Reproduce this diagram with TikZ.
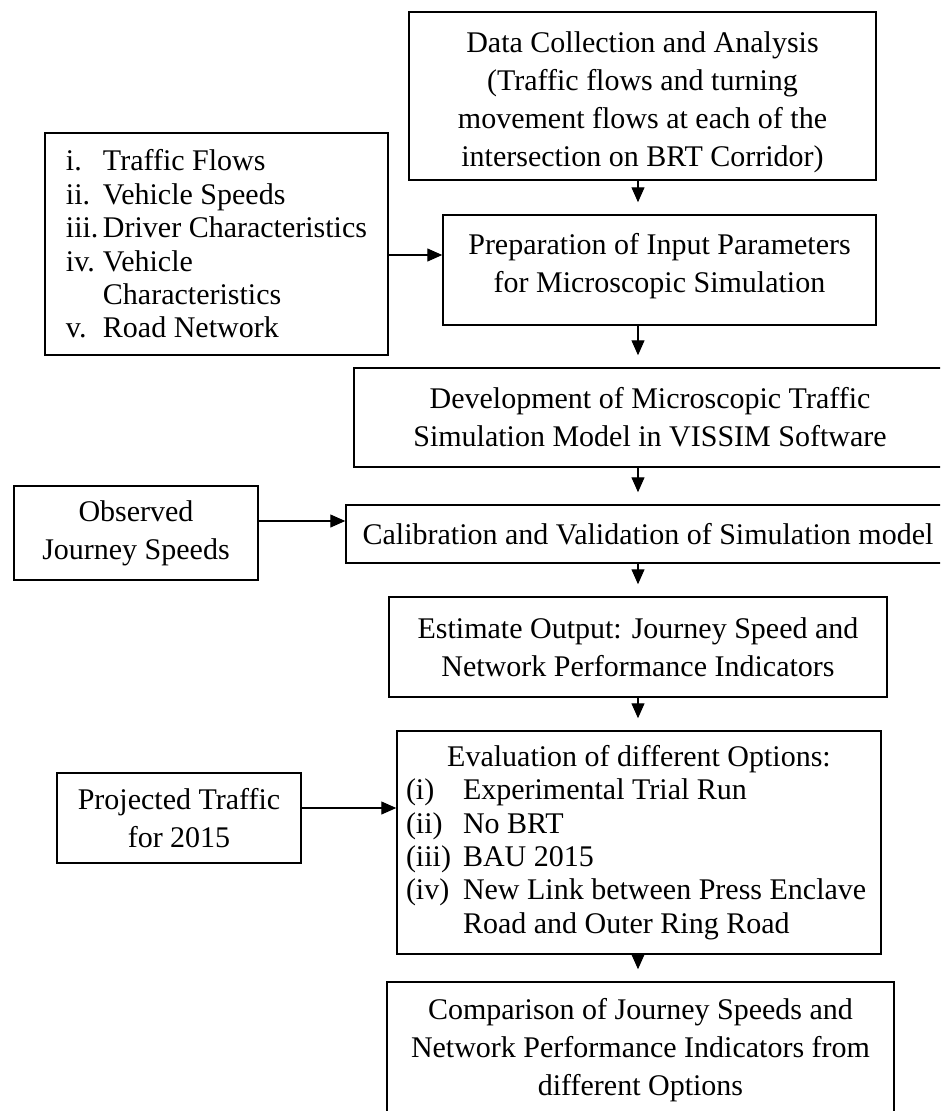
\documentclass[tikz,border=0pt]{standalone}
\usepackage{fontspec}
\setmainfont{Liberation Serif}
\usetikzlibrary{arrows.meta}
% move the ink of a text block up or down without changing its box
\newcommand{\nudgetext}[2]{\raisebox{#1}[\height][\depth]{\begin{tabular}{@{}c@{}}#2\end{tabular}}}
\begin{document}
\begin{tikzpicture}[x=1pt,y=-1pt,
  box/.style={draw, line width=1.5pt, inner sep=0pt, align=center,
    font=\fontsize{30}{38}\selectfont},
  listbox/.style={box, align=left, font=\fontsize{30}{33.4}\selectfont},
  arr/.style={-{Triangle[length=15pt,width=13pt]}, line width=1.3pt},
  darr/.style={arr, shorten >=12pt}]
\clip (0,0) rectangle (940,1111);
\fill[white] (0,0) rectangle (940,1111);

% main chain
\node[box, minimum width=467pt, minimum height=168pt] (data) at (642.5,96)
  {\nudgetext{-6pt}{Data Collection and Analysis\\(Traffic flows and turning\\movement flows at each of the\\intersection on BRT Corridor)}};
\node[box, minimum width=433pt, minimum height=110pt] (prep) at (659.5,270)
  {\nudgetext{4pt}{Preparation of Input Parameters\\for Microscopic Simulation}};
\node[box, minimum width=592pt, minimum height=99pt] (dev) at (650,417.5)
  {Development of Microscopic Traffic\\Simulation Model in VISSIM Software};
\node[box, minimum width=604pt, minimum height=58pt] (cal) at (648,534)
  {Calibration and Validation of Simulation model};
\node[box, minimum width=498pt, minimum height=100pt] (est) at (638,647)
  {Estimate Output: Journey Speed and\\Network Performance Indicators};
\node[listbox, minimum width=484pt, minimum height=223pt] (eval) at (639,842.5)
  {\makebox[466pt][c]{Evaluation of different Options:}\\
   \makebox[57pt][l]{(i)}Experimental Trial Run\\
   \makebox[57pt][l]{(ii)}No BRT\\
   \makebox[57pt][l]{(iii)}BAU 2015\\
   \makebox[57pt][l]{(iv)}New Link between Press Enclave\\
   \hspace*{57pt}Road and Outer Ring Road};
\node[box, minimum width=507pt, minimum height=136pt] (comp) at (640.5,1050)
  {Comparison of Journey Speeds and\\Network Performance Indicators from\\different Options};

% side inputs
\node[listbox, minimum width=343pt, minimum height=222pt] (list) at (216.5,244)
  {\makebox[37pt][l]{i.}Traffic Flows\\
   \makebox[37pt][l]{ii.}Vehicle Speeds\\
   \makebox[37pt][l]{iii.}Driver Characteristics\\
   \makebox[37pt][l]{iv.}Vehicle\\
   \hspace*{37pt}Characteristics\\
   \makebox[37pt][l]{v.}Road Network};
\node[box, minimum width=244pt, minimum height=94pt] (obs) at (136,533)
  {Observed\\Journey Speeds};
\node[box, minimum width=244pt, minimum height=90pt] (proj) at (179,818)
  {Projected Traffic\\for 2015};

% guide lines for the connectors
\coordinate (ax) at (638,0);
\coordinate (y1) at (0,255);
\coordinate (y2) at (0,521);
\coordinate (y3) at (0,808);

% vertical flow
\draw[darr] (data.south -| ax) -- (prep.north -| ax);
\draw[darr] (prep.south -| ax) -- (dev.north -| ax);
\draw[darr] (dev.south -| ax) -- (cal.north -| ax);
\draw[darr] (cal.south -| ax) -- (est.north -| ax);
\draw[darr] (est.south -| ax) -- (eval.north -| ax);
\draw[darr] (eval.south -| ax) -- (comp.north -| ax);

% inputs from the left
\draw[arr] (list.east |- y1) -- (prep.west |- y1);
\draw[arr] (obs.east |- y2) -- (cal.west |- y2);
\draw[arr] (proj.east |- y3) -- (eval.west |- y3);
\end{tikzpicture}
\end{document}
